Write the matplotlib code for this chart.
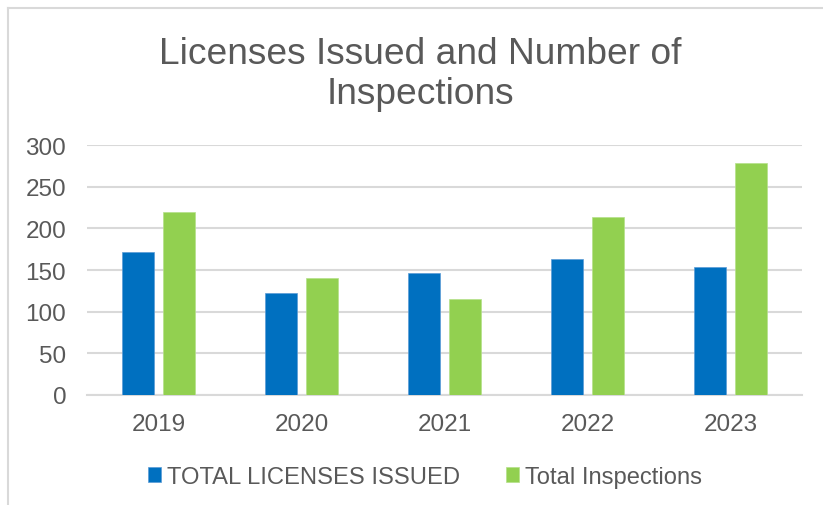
import numpy as np
import matplotlib
matplotlib.use("Agg")
from matplotlib import pyplot as plt
from matplotlib.lines import Line2D

years = ["2019", "2020", "2021", "2022", "2023"]
licenses = [172, 123, 146, 163, 154]
inspections = [220, 140, 115, 214, 278]
yticks = [0, 50, 100, 150, 200, 250, 300]

blue = "#0070C0"
green = "#92D050"
gray_text = "#595959"
grid_col = "#D9D9D9"

W, H = 823, 506
fig = plt.figure(figsize=(W / 100, H / 100), dpi=100)
ax = fig.add_axes([87 / W, 1 - 396 / H, (802 - 87) / W, (396 - 146) / H])

x = np.arange(len(years))
bw = 0.224
ax.bar(x - 0.14, licenses, bw, color=blue, edgecolor="#5B9BD5", linewidth=0.5, label="TOTAL LICENSES ISSUED", zorder=3)
ax.bar(x + 0.14, inspections, bw, color=green, edgecolor="#B5E08A", linewidth=0.5, label="Total Inspections", zorder=3)

ax.set_xlim(-0.5, len(years) - 0.5)
ax.set_ylim(0, 300)
ax.set_yticks(yticks)
ax.set_xticks(x)
ax.set_xticklabels(years)
ax.yaxis.grid(True, color=grid_col, linewidth=1.5, zorder=0)
for s in ["top", "right", "left"]:
    ax.spines[s].set_visible(False)
ax.spines["bottom"].set_color(grid_col)
ax.spines["bottom"].set_linewidth(1.5)
ax.tick_params(axis="both", length=0, labelcolor=gray_text, labelsize=17.5)
ax.tick_params(axis="y", pad=15)
ax.tick_params(axis="x", pad=13)
for lab in ax.get_xticklabels() + ax.get_yticklabels():
    lab.set_family("Liberation Sans")

# chart title, two lines
tfont = dict(family="Liberation Sans", fontsize=26.7, color=gray_text, ha="center", va="baseline")
fig.text(420 / W, 1 - 64 / H, "Licenses Issued and Number of", **tfont)
fig.text(420 / W, 1 - 104 / H, "Inspections", **tfont)

leg = fig.legend(loc="center", bbox_to_anchor=(425 / W, 1 - 478 / H), ncol=2, frameon=False,
                 handlelength=0.56, handleheight=0.56, handletextpad=0.26, columnspacing=1.9,
                 prop=dict(family="Liberation Sans", size=17.1))
for t in leg.get_texts():
    t.set_color(gray_text)

# chart area border (cropped)
fig.add_artist(Line2D([8 / W, 8 / W], [0, 1 - 9 / H], color=grid_col, linewidth=1.5, transform=fig.transFigure))
fig.add_artist(Line2D([8 / W, 1], [1 - 9 / H, 1 - 9 / H], color=grid_col, linewidth=1.5, transform=fig.transFigure))

fig.savefig("out.png", dpi=100)
